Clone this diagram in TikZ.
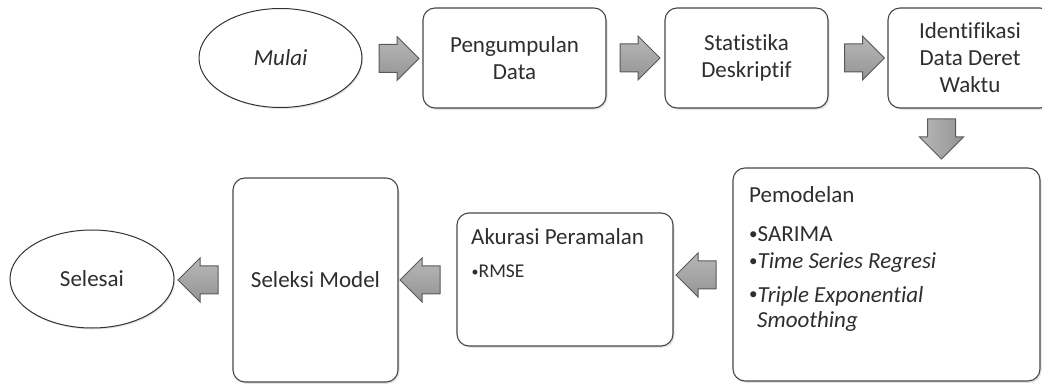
\documentclass[tikz,border=0pt]{standalone}
\usepackage{fontspec}
\setmainfont{Carlito}[Ligatures=NoCommon]
\usetikzlibrary{shapes.geometric,shapes.arrows,shadows,calc}
\newcommand{\smbul}{\raisebox{2pt}{\fontsize{17}{17}\selectfont •}}
\newcommand{\tinybul}{\raisebox{1.5pt}{\fontsize{14}{14}\selectfont •}}
\begin{document}
\begin{tikzpicture}[x=1pt,y=-1pt,
  every node/.style={font=\fontsize{23}{27}\selectfont, text=black!82},
  box/.style={draw=black!72, line width=1.1pt, rounded corners=12pt, fill=white,
    inner sep=0pt, align=center,
    drop shadow={opacity=0.22, shadow xshift=1.5pt, shadow yshift=-1.8pt}},
  oval/.style={ellipse, draw=black!80, line width=1pt, fill=white, inner sep=0pt,
    drop shadow={opacity=0.22, shadow xshift=1.2pt, shadow yshift=-1.5pt}},
  blk/.style={single arrow, draw=black!65, line width=1pt,
    top color=black!28, bottom color=black!42,
    minimum height=40pt, inner xsep=0pt, inner ysep=13.5pt,
    single arrow head extend=8pt},
  blkv/.style={blk, shape border rotate=270, inner xsep=13.5pt, inner ysep=0pt,
    left color=black!28, right color=black!42},
  txt/.style={anchor=base west, inner sep=0pt}
]
\path[use as bounding box, clip] (0,0) rectangle (1042,390);

% top row
\node[oval, minimum width=163pt, minimum height=99pt] (mulai) at (280.5,58) {\itshape Mulai};
\node[box, minimum width=183pt, minimum height=100pt] (kumpul) at (514.5,58) {Pengumpulan\\Data};
\node[box, minimum width=163pt, minimum height=100pt] (stat) at (746.5,58) {Statistika\\Deskriptif};
\node[box, minimum width=164pt, minimum height=100pt] (ident) at (970,58) {Identifikasi\\Data Deret\\Waktu};

% Pemodelan
\node[box, minimum width=307pt, minimum height=213pt] (model) at (886.5,274.5) {};
\node[txt] (mt0) at (749,203) {Pemodelan};
\node[txt] (mt1) at (749,242) {\smbul SARIMA};
\node[txt] (mt2) at (749,269) {\smbul\textit{Time Series Regresi}};
\node[txt] (mt3) at (749,302) {\smbul\textit{Triple Exponential}};
\node[txt] (mt4) at (757,327) {\textit{Smoothing}};

% Akurasi
\node[box, minimum width=216pt, minimum height=133pt] (akurasi) at (565,279.5) {};
\node[txt] (at0) at (471,245) {Akurasi Peramalan};
\node[txt, font=\fontsize{19.5}{23}\selectfont] (at1) at (471.5,278) {\tinybul RMSE};

% Seleksi and Selesai
\node[box, minimum width=165pt, minimum height=204pt] (seleksi) at (315.5,280) {Seleksi Model};
\node[oval, minimum width=164pt, minimum height=98pt] (selesai) at (92,279) {Selesai};

% block arrows
\node[blk] (a1) at (392,58.5) {};
\node[blk] (a2) at (633,58) {};
\node[blk] (a3) at (857.5,58) {};
\node[blkv] (a4) at (941.5,132) {};
\node[blk, shape border rotate=180] (a5) at (703,275) {};
\node[blk, shape border rotate=180] (a6) at (427,280) {};
\node[blk, shape border rotate=180] (a7) at (205,280) {};
\end{tikzpicture}
\end{document}
